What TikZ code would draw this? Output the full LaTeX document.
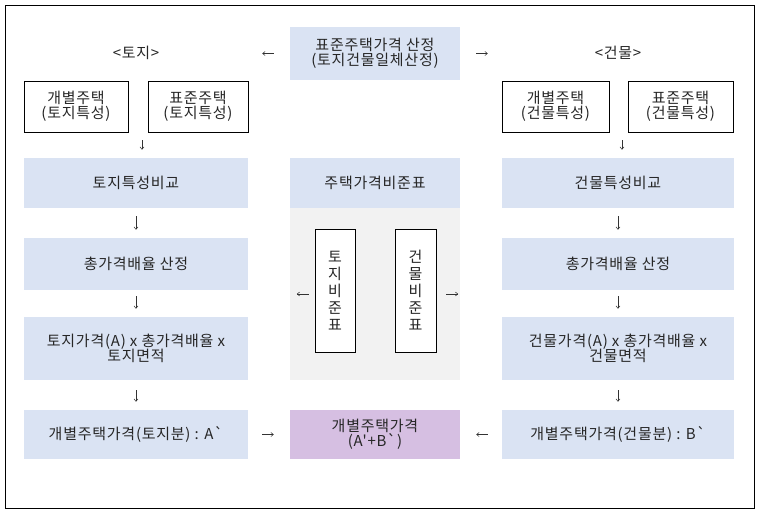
\documentclass[tikz,border=0pt]{standalone}
\usepackage{fontspec}
\setmainfont{Noto Sans CJK KR}[Ligatures=TeXOff, LetterSpace=5]
\usetikzlibrary{arrows.meta}
\definecolor{bluefill}{HTML}{DAE3F3}
\definecolor{purplefill}{HTML}{D6BFE2}
\definecolor{grayfill}{HTML}{F2F2F2}
\begin{document}
\begin{tikzpicture}[x=1pt,y=-1pt,
  every node/.style={font=\fontsize{15}{15.5}\selectfont, align=center, inner sep=0pt, text=black!85},
  wbox/.style={draw=black, line width=0.8pt, fill=white},
  arr/.style={-{Straight Barb[length=2.5pt,width=4pt]}, line width=0.5pt, black!80}
]
\useasboundingbox (0,0) rectangle (758,514);
\draw[line width=0.9pt] (5,5) rectangle (754,508);

% gray region
\node[fill=grayfill, minimum width=170pt, minimum height=172pt] (gray) at (375,294) {};

% top
\node[fill=bluefill, minimum width=170pt, minimum height=53pt] (top) at (375,53.5) {표준주택가격 산정\\(토지건물일체산정)};
\node (ltitle) at (136,53) {<토지>};
\node (rtitle) at (618,53) {<건물>};

% small boxes
\node[wbox, minimum width=104pt, minimum height=51pt] (lb1) at (76,106.5) {개별주택\\(토지특성)};
\node[wbox, minimum width=100pt, minimum height=51pt] (lb2) at (198,106.5) {표준주택\\(토지특성)};
\node[wbox, minimum width=107pt, minimum height=51pt] (rb1) at (555.5,106.5) {개별주택\\(건물특성)};
\node[wbox, minimum width=105pt, minimum height=51pt] (rb2) at (680.5,106.5) {표준주택\\(건물특성)};

% row 2
\node[fill=bluefill, minimum width=224pt, minimum height=50pt] (l2) at (136,183) {토지특성비교};
\node[fill=bluefill, minimum width=170pt, minimum height=50pt] (c2) at (375,183) {주택가격비준표};
\node[fill=bluefill, minimum width=232pt, minimum height=50pt] (r2) at (618,183) {건물특성비교};

% row 3
\node[fill=bluefill, minimum width=224pt, minimum height=52pt] (l3) at (136,264) {총가격배율 산정};
\node[fill=bluefill, minimum width=232pt, minimum height=52pt] (r3) at (618,264) {총가격배율 산정};

% row 4
\node[fill=bluefill, minimum width=224pt, minimum height=63pt] (l4) at (136,348.5) {토지가격(A) x 총가격배율 x\\토지면적};
\node[fill=bluefill, minimum width=232pt, minimum height=63pt] (r4) at (618,348.5) {건물가격(A) x 총가격배율 x\\건물면적};

% row 5
\node[fill=bluefill, minimum width=224pt, minimum height=49pt] (l5) at (136,434.5) {개별주택가격(토지분) : A`};
\node[fill=purplefill, minimum width=170pt, minimum height=49pt] (c5) at (375,434.5) {개별주택가격\\(A'+B`)};
\node[fill=bluefill, minimum width=232pt, minimum height=49pt] (r5) at (618,434.5) {개별주택가격(건물분) : B`};

% vertical boxes
\node[wbox, minimum width=40pt, minimum height=123pt, font=\fontsize{15}{17}\selectfont] (tv) at (335,290.5) {토\\지\\비\\준\\표};
\node[wbox, minimum width=41pt, minimum height=123pt, font=\fontsize{15}{17}\selectfont] (gv) at (415.5,290.5) {건\\물\\비\\준\\표};

% arrows top
\draw[arr, shorten <=16pt, shorten >=14pt] (top.west) -- (top.west -| l2.east);
\draw[arr, shorten <=16pt, shorten >=14pt] (top.east) -- (top.east -| r2.west);

% down arrows left (first one sits right of the gap centre, as in the reference)
\draw[arr, shorten <=8pt, shorten >=8pt] ([xshift=6pt]l2.north |- lb1.south) -- ([xshift=6pt]l2.north);
\draw[arr, shorten <=8pt, shorten >=8pt] (l2.south) -- (l3.north);
\draw[arr, shorten <=6pt, shorten >=8pt] (l3.south) -- (l4.north);
\draw[arr, shorten <=10pt, shorten >=8pt] (l4.south) -- (l5.north);
% down arrows right
\draw[arr, shorten <=8pt, shorten >=8pt] ([xshift=4pt]r2.north |- rb1.south) -- ([xshift=4pt]r2.north);
\draw[arr, shorten <=8pt, shorten >=8pt] (r2.south) -- (r3.north);
\draw[arr, shorten <=6pt, shorten >=8pt] (r3.south) -- (r4.north);
\draw[arr, shorten <=10pt, shorten >=8pt] (r4.south) -- (r5.north);

% center arrows
\draw[arr, shorten <=6pt, shorten >=7pt] (tv.west |- gray.center) -- (gray.west |- gray.center);
\draw[arr, shorten <=10pt, shorten >=2pt] (gv.east |- gray.center) -- (gray.east |- gray.center);
% bottom arrows
\draw[arr, shorten <=14pt, shorten >=16pt] (l5.east) -- (c5.west);
\draw[arr, shorten <=14pt, shorten >=16pt] (r5.west) -- (c5.east);
\end{tikzpicture}
\end{document}
